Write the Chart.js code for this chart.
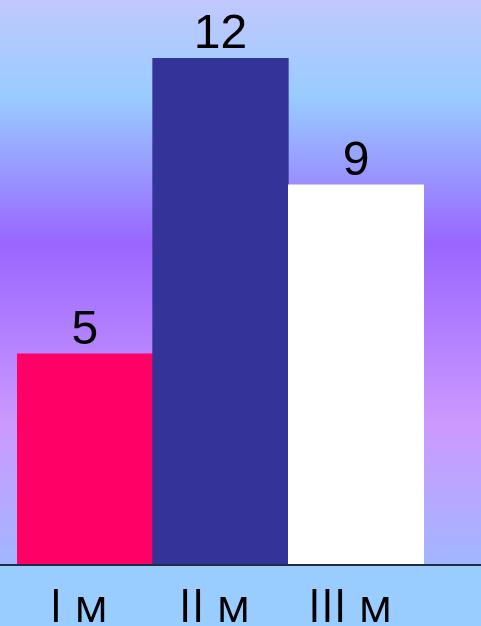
<!DOCTYPE html>
<html lang="ru">
<head>
    <meta charset="UTF-8">
    <title>Bar chart</title>
    <script src="https://cdn.jsdelivr.net/npm/chart.js"></script>
    <style>
        body { margin: 0; overflow: hidden; }
        canvas { display: block; }
    </style>
</head>
<body>
    <canvas id="chart" width="481" height="626"></canvas>
    <script>
        // data
        const categories = ['I м', 'II м', 'III м'];
        const values = [5, 12, 9];

        const barColors = ['#FF0066', '#333399', '#FFFFFF'];

        // background gradient + solid strip under the axis
        const backdrop = {
            id: 'backdrop',
            beforeDraw(chart) {
                const ctx = chart.ctx;
                const bottom = chart.chartArea.bottom;
                const g = ctx.createLinearGradient(0, 0, 0, bottom);
                g.addColorStop(0, '#C2C8FE');
                g.addColorStop(0.17, '#99CCFF');
                g.addColorStop(0.43, '#9966FF');
                g.addColorStop(0.75, '#CC99FF');
                g.addColorStop(1, '#A2B6FF');
                ctx.save();
                ctx.fillStyle = g;
                ctx.fillRect(0, 0, chart.width, bottom);
                ctx.fillStyle = '#99CCFF';
                ctx.fillRect(0, bottom, chart.width, chart.height - bottom);
                ctx.restore();
            },
            afterDatasetsDraw(chart) {
                const ctx = chart.ctx;
                const bottom = chart.chartArea.bottom;
                ctx.save();
                // baseline across the whole width
                ctx.strokeStyle = '#222B44';
                ctx.lineWidth = 2;
                ctx.beginPath();
                ctx.moveTo(0, bottom);
                ctx.lineTo(chart.width, bottom);
                ctx.stroke();
                // value labels
                ctx.fillStyle = '#000';
                ctx.font = '48px "Liberation Sans", Arial, sans-serif';
                ctx.textAlign = 'center';
                ctx.textBaseline = 'alphabetic';
                chart.getDatasetMeta(0).data.forEach((bar, i) => {
                    ctx.fillText(String(values[i]), bar.x, bar.y - 10);
                });
                ctx.restore();
            }
        };

        new Chart(document.getElementById('chart'), {
            type: 'bar',
            data: {
                labels: categories,
                datasets: [{
                    data: values,
                    backgroundColor: barColors,
                    borderWidth: 0,
                    barPercentage: 1,
                    categoryPercentage: 1
                }]
            },
            options: {
                responsive: false,
                animation: false,
                layout: { padding: { top: 58, left: 17, right: 57, bottom: 0 } },
                plugins: {
                    legend: { display: false },
                    tooltip: { enabled: false }
                },
                scales: {
                    x: {
                        grid: { display: false },
                        border: { display: false },
                        ticks: {
                            color: '#000',
                            padding: 8,
                            labelOffset: -6,
                            font: { family: '"Open Sans", "Liberation Sans", sans-serif', size: 46 }
                        },
                        afterFit(scale) { scale.height = 61; }
                    },
                    y: {
                        display: false,
                        min: 0,
                        max: 12
                    }
                }
            },
            plugins: [backdrop]
        });
    </script>
</body>
</html>
